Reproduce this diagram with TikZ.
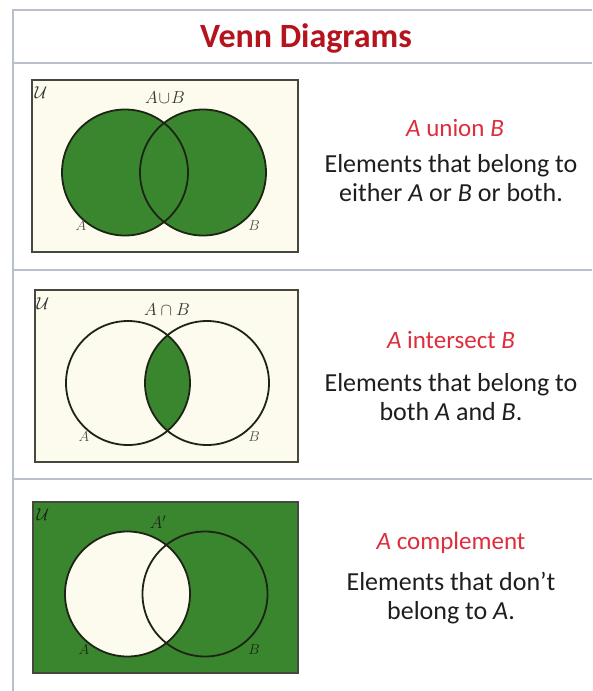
\documentclass[tikz,border=0pt]{standalone}
\usepackage{fontspec}
\setmainfont{Carlito}
\usetikzlibrary{positioning}

\definecolor{venngreen}{RGB}{58,134,46}
\definecolor{venncream}{RGB}{252,251,238}
\definecolor{vennline}{RGB}{28,36,22}
\definecolor{boxedge}{RGB}{70,72,62}
\definecolor{framegray}{RGB}{185,192,204}
\definecolor{titlered}{RGB}{180,20,30}
\definecolor{subred}{RGB}{222,45,60}
\definecolor{bodygray}{RGB}{30,30,30}

\begin{document}
\begin{tikzpicture}[x=1pt, y=-1pt,
        frame/.style={draw=framegray, line width=1.3pt},
        ubox/.style={draw=boxedge, line width=1.6pt},
        setline/.style={draw=vennline, line width=1.8pt},
        setlbl/.style={font=\fontsize{15}{15}\selectfont, text=gray!60!black},
        toplbl/.style={font=\fontsize{18}{18}\selectfont, text=black!80},
        heading/.style={font=\fontsize{25}{28}\selectfont, text=subred},
        body/.style={font=\fontsize{26}{29}\selectfont, text=bodygray, align=center}]

    \useasboundingbox (0,0) rectangle (592,691);
    \fill[white] (0,0) rectangle (592,691);

    % page frame and separators
    \draw[frame] (592,10) -- (13,10) -- (13,691);
    \draw[frame] (13,63) -- (592,63);
    \draw[frame] (13,270) -- (592,270);
    \draw[frame] (13,479) -- (592,479);
    \node[font=\fontsize{34}{36}\selectfont\bfseries, text=titlered] (title) at (306,38) {Venn Diagrams};

    % union
    \fill[venncream] (32,80) rectangle (298,252);
    \fill[venngreen] (125,172.5) circle (63) (203,172.5) circle (63);
    \draw[setline] (125,172.5) circle (63);
    \draw[setline] (203,172.5) circle (63);
    \draw[ubox] (32,80) rectangle (298,252);
    \node[toplbl] (u1) at (41,93) {$\mathcal{U}$};
    \node[toplbl] (cup) at (165,98) {$A\!\cup\! B$};
    \node[setlbl] (a1) at (81,226) {$A$};
    \node[setlbl] (b1) at (254,226) {$B$};
    \node[heading] (h1) at (455,128) {\emph{A} union \emph{B}};
    \node[body] (t1) at (451,178) {Elements that belong to\\either \emph{A} or \emph{B} or both.};

    % intersection
    \fill[venncream] (35,290) rectangle (298,462);
    \begin{scope}
        \clip (128,383) circle (62);
        \fill[venngreen] (207,383) circle (62);
    \end{scope}
    \draw[setline] (128,383) circle (62);
    \draw[setline] (207,383) circle (62);
    \draw[ubox] (35,290) rectangle (298,462);
    \node[toplbl] (u2) at (43,304) {$\mathcal{U}$};
    \node[toplbl] (cap) at (167,310) {$A\cap B$};
    \node[setlbl] (a2) at (84,437) {$A$};
    \node[setlbl] (b2) at (254,437) {$B$};
    \node[heading] (h2) at (451,340) {\emph{A} intersect \emph{B}};
    \node[body] (t2) at (451,397) {Elements that belong to\\both \emph{A} and \emph{B}.};

    % complement
    \fill[venngreen] (33,502) rectangle (298,673);
    \fill[venncream] (127.5,594) circle (62.5);
    \draw[setline] (127.5,594) circle (62.5);
    \draw[setline] (205,594) circle (62.5);
    \draw[ubox] (33,502) rectangle (298,673);
    \node[toplbl, text=vennline] (u3) at (43,515) {$\mathcal{U}$};
    \node[toplbl, text=vennline] (comp) at (158,522) {$A'$};
    \node[setlbl, text=vennline] (a3) at (84,650) {$A$};
    \node[setlbl, text=vennline] (b3) at (254,650) {$B$};
    \node[heading] (h3) at (451,543) {\emph{A} complement};
    \node[body] (t3) at (451,598) {Elements that don’t\\belong to \emph{A}.};
\end{tikzpicture}
\end{document}
